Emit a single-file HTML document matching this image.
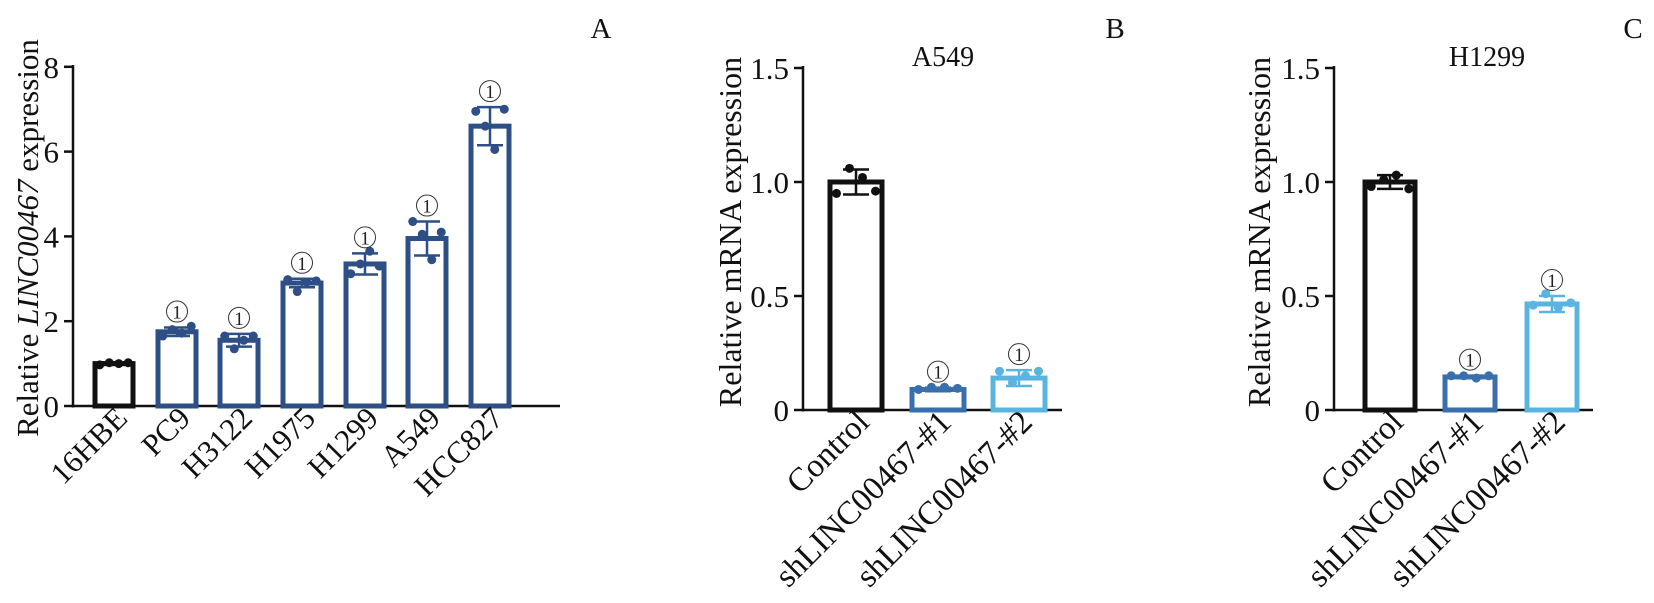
<!DOCTYPE html>
<html><head><meta charset="utf-8"><style>
html,body{margin:0;padding:0;background:#fff;}
svg{display:block;font-family:"Liberation Serif","DejaVu Serif",serif;}
</style></head><body>
<svg id="s" width="1654" height="603" xmlns="http://www.w3.org/2000/svg">
<g fill="#111">
<text x="601" y="38" text-anchor="middle" font-size="29">A</text>
<text x="1115" y="38" text-anchor="middle" font-size="29">B</text>
<text x="1633" y="38" text-anchor="middle" font-size="29">C</text>
<text x="943" y="66" text-anchor="middle" font-size="28">A549</text>
<text x="1487" y="66" text-anchor="middle" font-size="28">H1299</text>
<text transform="translate(38,238) rotate(-90)" text-anchor="middle" font-size="31">Relative <tspan font-style="italic">LINC00467</tspan> expression</text>
<text transform="translate(741,232) rotate(-90)" text-anchor="middle" font-size="32">Relative mRNA expression</text>
<text transform="translate(1270,232) rotate(-90)" text-anchor="middle" font-size="32">Relative mRNA expression</text>
</g>
</svg>
<script>
const s=document.getElementById('s');const NS='http://www.w3.org/2000/svg';
function el(t,a,txt){const e=document.createElementNS(NS,t);for(const k in a)e.setAttribute(k,a[k]);if(txt!==undefined)e.textContent=txt;s.appendChild(e);return e;}
function line(x1,y1,x2,y2,c,w){el('line',{x1,y1,x2,y2,stroke:c,'stroke-width':w});}
function star(x,y){el('circle',{cx:x,cy:y,r:10.5,fill:'none',stroke:'#333','stroke-width':1});el('text',{x:x,y:y+7,'text-anchor':'middle','font-size':19,fill:'#222'},'1');}
function panel(o){
 const {ax,y0,yTop,xEnd,sc,ticks,bars,bw}=o;
 line(ax,yTop,ax,y0+1.5,'#111',2.5);line(ax-1,y0,xEnd,y0,'#111',2.5);
 ticks.forEach(t=>{const y=y0-t[0]*sc;line(ax-9,y,ax,y,'#111',2.5);el('text',{x:ax-14,y:y+11,'text-anchor':'end','font-size':31,fill:'#111'},t[1]);});
 bars.forEach(b=>{const top=y0-b.v*sc;
  el('rect',{x:b.cx-bw/2,y:top,width:bw,height:y0-top,fill:'#fff',stroke:b.c,'stroke-width':5});
  const eh=b.e*sc;line(b.cx,top-eh,b.cx,top+eh,b.c,2.5);line(b.cx-13,top-eh,b.cx+13,top-eh,b.c,2.5);line(b.cx-13,top+eh,b.cx+13,top+eh,b.c,2.5);
  b.d.forEach((d,i)=>{el('circle',{cx:b.cx+[-15,-5,5,15][i]*(bw/40),cy:y0-d*sc,r:4.5,fill:b.c});});
  if(b.s)star(b.cx,top-eh-16);
  el('text',{transform:`translate(${b.cx+15},${y0+14}) rotate(-45)`,'text-anchor':'end','font-size':o.fs||30,fill:'#111'},b.l);
 });
}
const N='#2d4f85',K='#111',M='#3a6fae',L='#5ab4e0';
panel({ax:73,y0:406,yTop:65,xEnd:560,sc:42.4,bw:38,fs:31,ticks:[[0,'0'],[2,'2'],[4,'4'],[6,'6'],[8,'8']],bars:[
 {cx:114,v:1.0,e:0.03,c:K,d:[0.97,1.02,1.0,1.02],l:'16HBE'},
 {cx:177,v:1.75,e:0.1,c:N,d:[1.65,1.8,1.72,1.88],l:'PC9',s:1},
 {cx:239,v:1.55,e:0.15,c:N,d:[1.65,1.35,1.55,1.65],l:'H3122',s:1},
 {cx:302,v:2.9,e:0.1,c:N,d:[2.98,2.7,2.92,2.95],l:'H1975',s:1},
 {cx:365,v:3.35,e:0.25,c:N,d:[3.12,3.35,3.65,3.3],l:'H1299',s:1},
 {cx:427,v:3.95,e:0.4,c:N,d:[4.35,4.05,3.45,4.1],l:'A549',s:1},
 {cx:490,v:6.6,e:0.45,c:N,d:[6.95,6.6,6.05,7.0],l:'HCC827',s:1}]});
panel({ax:803,y0:410,yTop:66,xEnd:1062,sc:228,bw:52,fs:33,ticks:[[0,'0'],[0.5,'0.5'],[1,'1.0'],[1.5,'1.5']],bars:[
 {cx:856,v:1.0,e:0.055,c:K,d:[0.95,1.06,1.02,0.96],l:'Control'},
 {cx:938,v:0.09,e:0.008,c:M,d:[0.09,0.1,0.1,0.095],l:'shLINC00467-#1',s:1},
 {cx:1019,v:0.14,e:0.035,c:L,d:[0.17,0.12,0.15,0.17],l:'shLINC00467-#2',s:1}]});
panel({ax:1334,y0:410,yTop:66,xEnd:1593,sc:228,bw:50,fs:33,ticks:[[0,'0'],[0.5,'0.5'],[1,'1.0'],[1.5,'1.5']],bars:[
 {cx:1390,v:1.0,e:0.03,c:K,d:[0.98,1.01,1.03,0.97],l:'Control'},
 {cx:1470,v:0.145,e:0.006,c:M,d:[0.15,0.15,0.14,0.15],l:'shLINC00467-#1',s:1},
 {cx:1552,v:0.465,e:0.035,c:L,d:[0.46,0.51,0.45,0.47],l:'shLINC00467-#2',s:1}]});
</script>
</body></html>
